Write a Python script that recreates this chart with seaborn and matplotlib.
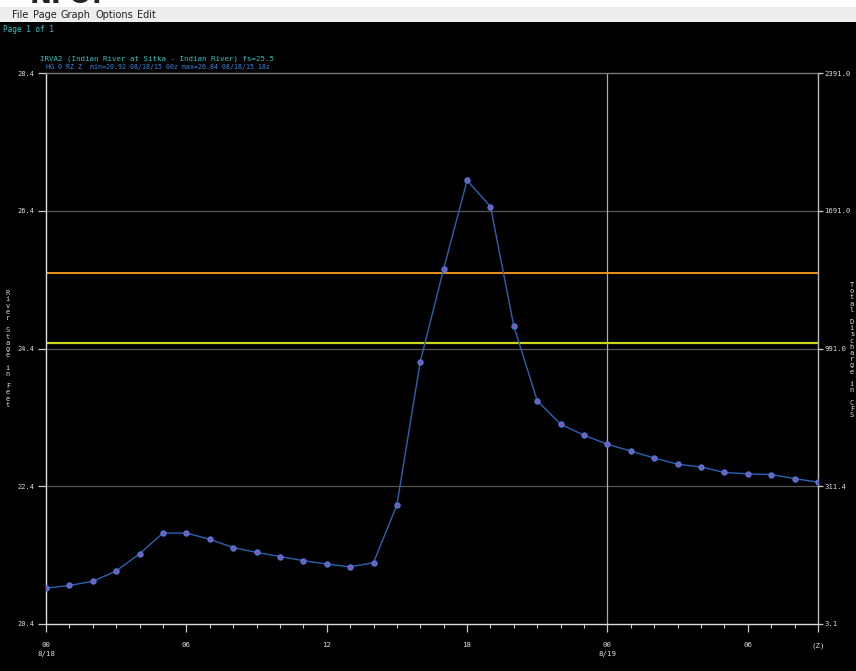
import matplotlib
matplotlib.use("Agg")
import matplotlib.pyplot as plt
from matplotlib.patches import Rectangle
import seaborn as sns
import pandas as pd

# hours since 08/18/15 00z
hours = list(range(34))
stage_ft = [20.92, 20.96, 21.02, 21.17, 21.42, 21.72, 21.72, 21.63, 21.51, 21.44,
            21.38, 21.32, 21.27, 21.23, 21.29, 22.13, 24.21, 25.56, 26.84, 26.46,
            24.72, 23.64, 23.30, 23.14, 23.01, 22.91, 22.81, 22.72, 22.68, 22.60,
            22.58, 22.57, 22.51, 22.46]
flood_stage = 25.5
action_stage = 24.48

y_ticks = [20.4, 22.4, 24.4, 26.4, 28.4]
right_labels = ["3.1", "311.4", "991.0", "1691.0", "2391.0"]
x_ticks = [0, 6, 12, 18, 24, 30, 33]
x_labels = ["00\n8/18", "06", "12", "18", "00\n8/19", "06", "(Z)"]
menu_items = ["File", "Page", "Graph", "Options", "Edit"]
menu_x = [12, 33, 61, 96, 137]

df = pd.DataFrame({"hour": hours, "stage": stage_ft})

sns.set_theme(style="dark")
plt.rcParams["font.family"] = ["DejaVu Sans Mono"]
mono = "DejaVu Sans Mono"

fig = plt.figure(figsize=(8.56, 6.71), dpi=100, facecolor="black")
H = 671.0
W = 856.0

# window chrome
fig.add_artist(Rectangle((0, 1 - 22 / H), 1, 22 / H, transform=fig.transFigure,
                         facecolor="#ededed", edgecolor="none", zorder=0))
fig.add_artist(Rectangle((0, 1 - 7 / H), 1, 7 / H, transform=fig.transFigure,
                         facecolor="white", edgecolor="none", zorder=0))
fig.text(30 / W, 1 - 9 / H, "NFO:", fontsize=19, fontweight="bold", color="#222222",
         family="DejaVu Sans", va="bottom", zorder=1)
for label, mx in zip(menu_items, menu_x):
    fig.text(mx / W, 1 - 15 / H, label, fontsize=7, family="DejaVu Sans",
             color="#222222", va="center")
fig.text(3 / W, 1 - 29 / H, "Page 1 of 1", fontsize=5.6, family=mono, color="#2ec8c8", va="center")
fig.text(40 / W, 1 - 59 / H, "IRVA2 (Indian River at Sitka - Indian River) fs=25.5",
         fontsize=5.3, family=mono, color="#2ec8c8", va="center")
fig.text(46 / W, 1 - 67 / H, "HG 0 RZ Z  min=20.92 08/18/15 00z max=26.84 08/18/15 18z",
         fontsize=4.8, family=mono, color="#3b8be0", va="center")

ax = fig.add_axes([46 / W, 47 / H, 772 / W, 551 / H])
ax.set_facecolor("black")

for y in y_ticks[1:-1]:
    ax.axhline(y, color="#555555", lw=0.9, zorder=1)
ax.axvline(24, color="#aaaaaa", lw=0.9, zorder=1)
ax.axhline(flood_stage, color="#ff9b1f", lw=1.3, zorder=2)
ax.axhline(action_stage, color="#c8d41e", lw=1.6, zorder=2)

sns.lineplot(data=df, x="hour", y="stage", ax=ax, color="#2b62b0", lw=1.0,
             marker="o", markersize=3.8, markerfacecolor="#5a78e0",
             markeredgecolor="#4a74d8", markeredgewidth=0.8, zorder=3)
sns.scatterplot(data=df, x="hour", y="stage", ax=ax, color="#c0306a", s=2.5,
                linewidth=0, zorder=4)

ax.set_xlim(0, 33)
ax.set_ylim(20.4, 28.4)
ax.set_xticks(x_ticks)
ax.set_xticklabels(x_labels, family=mono, fontsize=5.3, color="#dddddd", linespacing=1.6)
ax.set_xticks(hours, minor=True)
ax.set_yticks(y_ticks)
ax.set_yticklabels(["%.1f" % v for v in y_ticks], family=mono, fontsize=5.0, color="#dddddd")
ax.tick_params(axis="x", which="major", direction="out", length=6, width=0.9,
               color="#cccccc", pad=7, bottom=True)
ax.tick_params(axis="x", which="minor", direction="out", length=3, width=0.8,
               color="#cccccc", bottom=True)
ax.tick_params(axis="y", direction="out", length=6, width=0.9, color="#cccccc",
               pad=2, left=True)
ax.set_xlabel("")
ax.set_ylabel("")
ax.grid(False)

for side, col in [("left", "#dddddd"), ("bottom", "#dddddd"), ("right", "#bbbbbb"), ("top", "#777777")]:
    ax.spines[side].set_visible(True)
    ax.spines[side].set_color(col)
    ax.spines[side].set_linewidth(1.0)

ax2 = ax.twinx()
ax2.set_ylim(20.4, 28.4)
ax2.set_yticks(y_ticks)
ax2.set_yticklabels(right_labels, family=mono, fontsize=5.2, color="#dddddd")
ax2.tick_params(axis="y", direction="out", length=3.6, width=0.9, color="#cccccc", pad=1, right=True)
ax2.grid(False)
for s in ax2.spines.values():
    s.set_visible(False)

fig.text(8 / W, 1 - 349 / H, "\n".join("River Stage in Feet"), fontsize=5.0, family=mono,
         color="#dddddd", ha="center", va="center", linespacing=1.04)
fig.text(852 / W, 1 - 350 / H, "\n".join("Total Discharge in CFS"), fontsize=5.0, family=mono,
         color="#dddddd", ha="center", va="center", linespacing=1.04)

fig.savefig("out.png", dpi=100, facecolor="black")
